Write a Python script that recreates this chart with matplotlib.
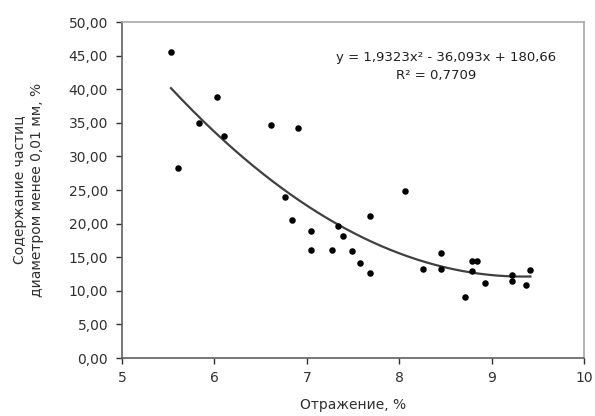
import numpy as np
import matplotlib
matplotlib.use("Agg")
import matplotlib.pyplot as plt
from matplotlib.ticker import FuncFormatter

# Data
reflect = [5.53, 5.61, 5.83, 6.03, 6.10, 6.61, 6.76, 6.84, 6.90, 7.05, 7.05,
           7.27, 7.34, 7.39, 7.49, 7.58, 7.68, 7.68, 8.06, 8.26, 8.45, 8.45,
           8.71, 8.79, 8.84, 8.79, 8.93, 9.22, 9.22, 9.37, 9.42]
content = [45.6, 28.3, 34.9, 38.9, 33.0, 34.7, 24.0, 20.6, 34.3, 18.9, 16.1,
           16.1, 19.7, 18.2, 15.9, 14.2, 21.1, 12.6, 24.9, 13.2, 15.6, 13.3,
           9.1, 14.45, 14.45, 13.0, 11.2, 12.4, 11.5, 10.8, 13.1]
coef = [1.9323, -36.093, 180.66]   # from the printed trend equation
r2_text = "R² = 0,7709"
eq_text = "y = 1,9323x² - 36,093x + 180,66"
xticks = [5, 6, 7, 8, 9, 10]
yticks = [0, 5, 10, 15, 20, 25, 30, 35, 40, 45, 50]

plt.rcParams['font.family'] = ['DejaVu Sans']

fig = plt.figure(figsize=(5.95, 4.16), dpi=100)
ax = fig.add_axes([122/595, 1-358/416, (584-122)/595, (358-22)/416])

ax.scatter(reflect, content, s=22, color='black', zorder=3, linewidths=0)
xs = np.linspace(min(reflect), max(reflect), 200)
ax.plot(xs, np.polyval(coef, xs), color='#404040', lw=1.6, zorder=2)

ax.set_xlim(5, 10)
ax.set_ylim(0, 50)
ax.set_xticks(xticks)
ax.set_yticks(yticks)
ax.xaxis.set_major_formatter(FuncFormatter(lambda v, p: f"{v:.0f}"))
ax.yaxis.set_major_formatter(FuncFormatter(lambda v, p: f"{v:.2f}".replace('.', ',')))
ax.tick_params(axis='both', labelsize=10, colors='#303030', length=4, width=1, direction='out')
ax.tick_params(axis='y', pad=6)
ax.tick_params(axis='x', pad=5)

for s in ['left', 'bottom']:
    ax.spines[s].set_color('#606060')
    ax.spines[s].set_linewidth(1.2)
for s in ['top', 'right']:
    ax.spines[s].set_color('#a8a8a8')
    ax.spines[s].set_linewidth(1.2)

ax.set_xlabel("Отражение, %", fontsize=10, color='#303030', labelpad=10)
ax.set_ylabel("Содержание частиц\nдиаметром менее 0,01 мм, %", fontsize=10,
              color='#303030', labelpad=18)

fig.text(446/595, 1-58/416, eq_text, fontsize=9.5, ha='center', va='center',
         color='#202020')
fig.text(436/595, 1-75/416, r2_text, fontsize=9.5, ha='center', va='center',
         color='#202020')

fig.savefig("out.png", dpi=100)
